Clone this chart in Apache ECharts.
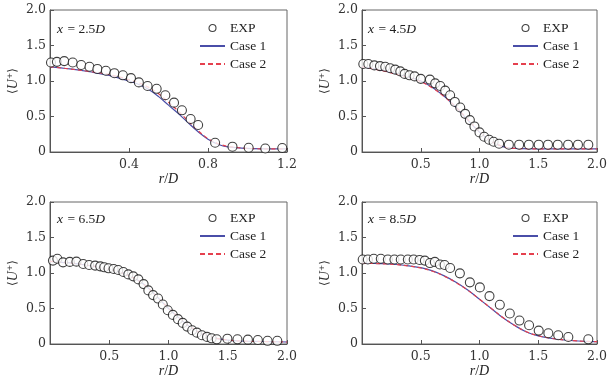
<!DOCTYPE html>
<html><head><meta charset="utf-8">
<script src="https://cdn.jsdelivr.net/npm/echarts@6/dist/echarts.min.js"></script>
<style>html,body{margin:0;padding:0;background:#fff}#c{width:616px;height:384px}</style>
</head><body><div id="c"></div>
<script>
// ---------- data ----------
const panelLabels = ['2.5', '4.5', '6.5', '8.5'];
const xMax = [1.2, 2.0, 2.0, 2.0];
const xInterval = [0.4, 0.5, 0.5, 0.5];
const yTicks = [0, 0.5, 1.0, 1.5, 2.0];

// Panel 1 (x = 2.5D)
const exp1X = [0.005,0.035,0.072,0.115,0.158,0.2,0.24,0.283,0.326,0.369,0.41,0.45,0.494,0.54,0.584,0.628,0.668,0.712,0.75,0.836,0.924,1.006,1.09,1.176];
const exp1Y = [1.26,1.27,1.28,1.26,1.225,1.20,1.17,1.145,1.11,1.08,1.04,0.98,0.93,0.89,0.80,0.695,0.587,0.465,0.38,0.13,0.075,0.06,0.05,0.056];
const line1X = [0,0.1,0.2,0.3,0.4,0.45,0.5,0.55,0.6,0.65,0.7,0.75,0.8,0.85,0.9,1.0,1.1,1.2];
const case1Y1 = [1.20,1.17,1.13,1.08,1.00,0.95,0.88,0.78,0.66,0.54,0.41,0.285,0.18,0.11,0.072,0.05,0.045,0.045];
const case2Y1 = [1.20,1.17,1.135,1.09,1.02,0.975,0.91,0.82,0.70,0.575,0.435,0.30,0.19,0.12,0.08,0.052,0.045,0.045];

// Panel 2 (x = 4.5D)
const exp2X = [0.011,0.054,0.105,0.153,0.198,0.24,0.283,0.326,0.363,0.405,0.448,0.5,0.578,0.623,0.666,0.708,0.75,0.79,0.836,0.878,0.918,0.957,1.0,1.04,1.082,1.12,1.167,1.25,1.337,1.42,1.504,1.583,1.666,1.754,1.838,1.926];
const exp2Y = [1.24,1.24,1.22,1.21,1.20,1.18,1.16,1.135,1.10,1.08,1.065,1.03,1.02,0.967,0.93,0.864,0.80,0.705,0.626,0.537,0.449,0.36,0.276,0.215,0.173,0.145,0.117,0.103,0.103,0.103,0.103,0.103,0.103,0.103,0.103,0.103];
const line2X = [0,0.1,0.2,0.3,0.4,0.5,0.6,0.7,0.8,0.9,1.0,1.1,1.2,1.3,1.5,1.75,2.0];
const case1Y2 = [1.20,1.175,1.14,1.10,1.055,1.0,0.91,0.785,0.63,0.45,0.28,0.15,0.075,0.05,0.045,0.045,0.045];
const case2Y2 = [1.20,1.17,1.135,1.093,1.045,0.99,0.90,0.78,0.632,0.46,0.29,0.155,0.078,0.05,0.045,0.045,0.045];

// Panel 3 (x = 6.5D)
const exp3X = [0.025,0.062,0.11,0.167,0.223,0.28,0.33,0.381,0.424,0.458,0.494,0.537,0.576,0.619,0.661,0.703,0.746,0.79,0.83,0.87,0.912,0.952,0.994,1.037,1.08,1.12,1.158,1.2,1.24,1.282,1.325,1.364,1.407,1.497,1.582,1.67,1.754,1.836,1.918];
const exp3Y = [1.175,1.20,1.15,1.156,1.16,1.127,1.113,1.104,1.094,1.08,1.066,1.057,1.042,1.014,0.98,0.953,0.91,0.844,0.755,0.689,0.64,0.557,0.476,0.41,0.35,0.297,0.245,0.193,0.16,0.123,0.10,0.08,0.066,0.075,0.066,0.061,0.057,0.045,0.045];
const line3X = [0,0.1,0.2,0.3,0.4,0.5,0.6,0.7,0.8,0.9,1.0,1.1,1.2,1.3,1.4,1.5,1.6,1.8,2.0];
const case1Y3 = [1.165,1.15,1.135,1.113,1.085,1.055,1.01,0.94,0.83,0.67,0.50,0.35,0.22,0.13,0.08,0.055,0.042,0.035,0.028];
const case2Y3 = [1.165,1.15,1.135,1.113,1.085,1.052,1.005,0.935,0.828,0.672,0.505,0.355,0.225,0.135,0.083,0.057,0.043,0.035,0.028];

// Panel 4 (x = 8.5D)
const exp4X = [0.006,0.05,0.1,0.16,0.22,0.276,0.33,0.39,0.44,0.49,0.535,0.578,0.62,0.663,0.703,0.75,0.833,0.918,1.003,1.085,1.173,1.258,1.34,1.422,1.504,1.586,1.67,1.756,1.926];
const exp4Y = [1.19,1.19,1.20,1.20,1.19,1.19,1.19,1.19,1.19,1.184,1.175,1.14,1.156,1.12,1.113,1.07,0.995,0.868,0.797,0.675,0.552,0.43,0.33,0.264,0.189,0.151,0.123,0.099,0.066];
const line4X = [0,0.1,0.2,0.3,0.4,0.5,0.6,0.7,0.8,0.9,1.0,1.1,1.2,1.3,1.4,1.5,1.6,1.7,1.8,1.9,2.0];
const case1Y4 = [1.137,1.135,1.13,1.12,1.10,1.075,1.03,0.96,0.87,0.76,0.63,0.50,0.37,0.26,0.17,0.115,0.082,0.06,0.046,0.038,0.033];
const case2Y4 = [1.137,1.134,1.128,1.117,1.097,1.07,1.025,0.955,0.865,0.758,0.63,0.502,0.372,0.262,0.172,0.116,0.083,0.061,0.047,0.038,0.033];

// ---------- chart ----------
const expX = [exp1X, exp2X, exp3X, exp4X];
const expY = [exp1Y, exp2Y, exp3Y, exp4Y];
const lineX = [line1X, line2X, line3X, line4X];
const case1Y = [case1Y1, case1Y2, case1Y3, case1Y4];
const case2Y = [case2Y1, case2Y2, case2Y3, case2Y4];

const zip = (xs, ys) => xs.map((x, i) => [x, ys[i]]);
const FONT = 'Liberation Serif';
const TICKFONT = 'DejaVu Serif';
const BLUE = '#4a4ea8';
const RED = '#e5404e';

const grids = [
  {left: 50, top: 10, width: 237, height: 142},
  {left: 362, top: 10, width: 235, height: 142},
  {left: 50, top: 202, width: 237, height: 142},
  {left: 362, top: 202, width: 235, height: 142}
];
const legendPos = [[199, 21], [512, 21], [199, 211], [512, 211]];
const labelPos = [[57, 20], [368, 20], [57, 210], [368, 210]];

const fmt = v => (Math.abs(v) < 1e-9 ? '0' : v.toFixed(1));

const option = {
  animation: false,
  backgroundColor: '#fff',
  textStyle: {fontFamily: FONT},
  grid: grids.map(g => Object.assign({show: true, borderColor: '#666', borderWidth: 1, backgroundColor: 'transparent'}, g)),
  title: panelLabels.map((t, i) => ({
    left: labelPos[i][0], top: labelPos[i][1], padding: 0,
    text: '{i|x} {n|= ' + t + '}{i|D}',
    textStyle: {fontWeight: 'normal', rich: {
      i: {fontFamily: FONT, fontStyle: 'italic', fontWeight: 'normal', fontSize: 13.5, color: '#222'},
      n: {fontFamily: FONT, fontWeight: 'normal', fontSize: 13.5, color: '#222'}
    }}
  })),
  legend: legendPos.map((p, i) => ({
    left: p[0], top: p[1], orient: 'vertical', padding: 0,
    itemWidth: 25, itemHeight: 7, itemGap: 4,
    textStyle: {fontFamily: FONT, fontSize: 13.5, color: '#222'},
    data: [
      {name: 'EXP', icon: 'circle', itemStyle: {color: '#fff', borderColor: '#111', borderWidth: 1.1}},
      {name: 'Case 1', itemStyle: {opacity: 0}},
      {name: 'Case 2', itemStyle: {opacity: 0}, lineStyle: {type: [5, 3]}}
    ]
  })),
  xAxis: grids.map((g, i) => ({
    type: 'value', gridIndex: i, min: 0, max: xMax[i], interval: xInterval[i],
    name: '{i|r}{n|/}{i|D}', nameLocation: 'middle', nameGap: 19,
    nameTextStyle: {rich: {
      i: {fontFamily: FONT, fontStyle: 'italic', fontSize: 14, color: '#222'},
      n: {fontFamily: FONT, fontSize: 14, color: '#222'}
    }},
    axisLine: {lineStyle: {color: '#555', width: 1}},
    axisTick: {inside: true, length: 4, lineStyle: {color: '#555'}},
    axisLabel: {fontFamily: TICKFONT, fontSize: 12.5, color: '#333', margin: 6,
      formatter: v => (Math.abs(v) < 1e-9 ? '' : v.toFixed(1))},
    splitLine: {show: false}
  })),
  yAxis: grids.map((g, i) => ({
    type: 'value', gridIndex: i, min: yTicks[0], max: yTicks[yTicks.length - 1], interval: yTicks[1] - yTicks[0],
    name: '{n|⟨}{i|U}{n|⁺⟩}', nameLocation: 'middle', nameGap: 30, nameRotate: 90,
    nameTextStyle: {rich: {
      i: {fontFamily: FONT, fontStyle: 'italic', fontSize: 14, color: '#333'},
      n: {fontFamily: 'DejaVu Serif', fontSize: 12, color: '#333'}
    }},
    axisLine: {lineStyle: {color: '#555', width: 1}},
    axisTick: {inside: true, length: 4, lineStyle: {color: '#555'}},
    axisLabel: {fontFamily: TICKFONT, fontSize: 12.5, color: '#333', margin: 4, formatter: fmt},
    splitLine: {show: false}
  })),
  series: []
};

for (let i = 0; i < 4; i++) {
  option.series.push({
    name: 'Case 1', type: 'line', xAxisIndex: i, yAxisIndex: i, smooth: 0.4,
    symbol: 'none', data: zip(lineX[i], case1Y[i]),
    lineStyle: {color: BLUE, width: 1.2}, itemStyle: {color: BLUE}, z: 2
  });
  option.series.push({
    name: 'Case 2', type: 'line', xAxisIndex: i, yAxisIndex: i, smooth: 0.4,
    symbol: 'none', data: zip(lineX[i], case2Y[i]),
    lineStyle: {color: RED, width: 1.2, type: [4, 3]}, itemStyle: {color: RED}, z: 3
  });
  option.series.push({
    name: 'EXP', type: 'scatter', xAxisIndex: i, yAxisIndex: i, symbol: 'circle', symbolSize: 9,
    data: zip(expX[i], expY[i]), clip: false,
    itemStyle: {color: '#fff', borderColor: '#111', borderWidth: 1.1}, z: 4
  });
}

const chart = echarts.init(document.getElementById('c'), null, {renderer: 'canvas'});
chart.setOption(option);
</script>
</body></html>
